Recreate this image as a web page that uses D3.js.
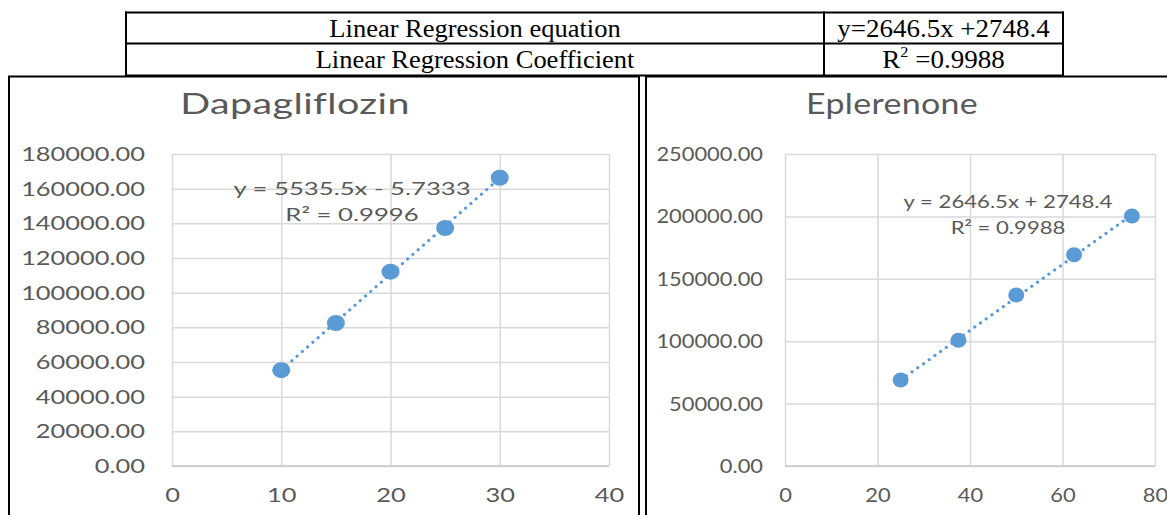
<!DOCTYPE html>
<html>
<head>
<meta charset="utf-8">
<script src="https://cdn.jsdelivr.net/npm/d3@7"></script>
<style>
  html, body { margin: 0; padding: 0; background: #fff; overflow: hidden; }
  svg { display: block; }
</style>
</head>
<body>
<svg id="fig" width="1167" height="515"></svg>
<script>
// Calibration data: concentration (µg/mL) vs. peak area
const dapaConc = [10, 15, 20, 25, 30];
const dapaArea = [55300, 82500, 112100, 137300, 166300];
const dapaFitCoef = [5535.5, -5.7333];   // slope, intercept
const dapaR2 = 0.9996;
const dapaXTicks = [0, 10, 20, 30, 40];
const dapaYTicks = [0, 20000, 40000, 60000, 80000, 100000, 120000, 140000, 160000, 180000];

const eplConc = [25, 37.5, 50, 62.5, 75];
const eplArea = [68900, 100800, 137000, 169300, 200300];
const eplFitCoef = [2646.5, 2748.4];
const eplR2 = 0.9988;
const eplXTicks = [0, 20, 40, 60, 80];
const eplYTicks = [0, 50000, 100000, 150000, 200000, 250000];

const tableLabels = ["Linear Regression equation", "Linear Regression Coefficient"];

const svg = d3.select("#fig");
const BLUE = "#5B9BD5", GREY_TXT = "#595959", GRID = "#d9d9d9";
const SANS = "Lato, 'Open Sans', sans-serif";
const SERIF = "'Liberation Serif', 'Times New Roman', serif";

// ---------- summary table ----------
const tbl = svg.append("g").attr("class", "table");
const T = { x0: 126, x1: 824, x2: 1063, y0: 12.5, y1: 43.5, y2: 75.5 };
const rowY = [T.y0, T.y1, T.y2];

function stretchedText(g, x, y, sx, anchor) {
  return g.append("text")
    .attr("transform", `translate(${x},${y}) scale(${sx},1)`)
    .attr("text-anchor", anchor || "middle");
}

tableLabels.forEach((lab, i) => {
  stretchedText(tbl, (T.x0 + T.x1) / 2, rowY[i] + 24, 1.06)
    .attr("font-family", SERIF).attr("font-size", 25).attr("fill", "#000")
    .text(lab);
});
const fmtSigned = v => (v < 0 ? "-" : "+") + Math.abs(v);
stretchedText(tbl, (T.x1 + T.x2) / 2, rowY[0] + 24, 1.08)
  .attr("font-family", SERIF).attr("font-size", 25).attr("fill", "#000")
  .text(`y=${eplFitCoef[0]}x ${fmtSigned(eplFitCoef[1])}`);
const r2cell = stretchedText(tbl, (T.x1 + T.x2) / 2, rowY[1] + 24, 1.08)
  .attr("font-family", SERIF).attr("font-size", 25).attr("fill", "#000");
r2cell.append("tspan").text("R");
r2cell.append("tspan").attr("font-size", 15).attr("dy", -11).text("2");
r2cell.append("tspan").attr("dy", 11).text(" =" + eplR2);

// table rules
[[T.x0, T.y0, T.x2, T.y0], [T.x0, T.y1, T.x2, T.y1], [T.x0, T.y2, T.x2, T.y2],
 [T.x0, T.y0, T.x0, T.y2], [T.x1, T.y0, T.x1, T.y2], [T.x2, T.y0, T.x2, T.y2]]
  .forEach(([a, b, c, d]) => tbl.append("line")
    .attr("x1", a).attr("y1", b).attr("x2", c).attr("y2", d)
    .attr("stroke", "#000").attr("stroke-width", 2).attr("stroke-linecap", "square"));

// ---------- chart panels ----------
function drawPanel(cfg) {
  const g = svg.append("g");
  // frame
  g.append("rect")
    .attr("x", cfg.frame[0]).attr("y", 76.5)
    .attr("width", cfg.frame[1] - cfg.frame[0]).attr("height", 460)
    .attr("fill", "none").attr("stroke", "#000").attr("stroke-width", 2);

  const x = d3.scaleLinear().domain(d3.extent(cfg.xTicks)).range([cfg.plot.left, cfg.plot.right]);
  const y = d3.scaleLinear().domain(d3.extent(cfg.yTicks)).range([cfg.plot.bottom, cfg.plot.top]);

  // title
  stretchedText(g, cfg.titleX, 114, cfg.sx)
    .attr("font-family", SANS).attr("font-size", 29).attr("font-weight", 400)
    .attr("fill", GREY_TXT).attr("letter-spacing", 0.3).text(cfg.title);

  // horizontal gridlines + y labels
  const yAx = g.append("g")
    .attr("transform", `translate(${cfg.plot.left},0)`)
    .call(d3.axisLeft(y).tickValues(cfg.yTicks).tickFormat(d3.format(".2f"))
      .tickSize(-(cfg.plot.right - cfg.plot.left)));
  yAx.select(".domain").remove();
  yAx.selectAll(".tick line").attr("stroke", GRID).attr("stroke-width", 1.5);
  yAx.selectAll(".tick text")
    .attr("x", null).attr("dy", null)
    .attr("transform", `translate(${cfg.yLabelRight - cfg.plot.left},6.5) scale(${cfg.sx * 1.01},1)`)
    .attr("text-anchor", "end")
    .attr("font-family", SANS).attr("font-size", 18.5).attr("fill", GREY_TXT);

  // vertical gridlines + x labels
  const xAx = g.append("g")
    .attr("transform", `translate(0,${cfg.plot.bottom})`)
    .call(d3.axisBottom(x).tickValues(cfg.xTicks).tickFormat(d3.format("d"))
      .tickSize(-(cfg.plot.bottom - cfg.plot.top)));
  xAx.select(".domain").remove();
  xAx.selectAll(".tick line").attr("stroke", GRID).attr("stroke-width", 1.5);
  xAx.selectAll(".tick text")
    .attr("y", null).attr("dy", null)
    .attr("transform", `translate(0,36) scale(${cfg.sx * 1.01},1)`)
    .attr("text-anchor", "middle")
    .attr("font-family", SANS).attr("font-size", 18.5).attr("fill", GREY_TXT);

  // axis baseline
  g.append("line")
    .attr("x1", cfg.plot.left).attr("x2", cfg.plot.right)
    .attr("y1", y(0)).attr("y2", y(0))
    .attr("stroke", "#c8c8c8").attr("stroke-width", 1.5);

  // linear trendline from the fitted equation
  const [m, b] = cfg.coef;
  const xr = d3.extent(cfg.xs);
  g.append("path")
    .datum(xr)
    .attr("d", d3.line().x(d => x(d)).y(d => y(m * d + b)))
    .attr("fill", "none").attr("stroke", BLUE).attr("stroke-width", 3.2)
    .attr("stroke-linecap", "round").attr("stroke-dasharray", "0.01 7");

  // data points
  g.selectAll("ellipse.pt")
    .data(cfg.xs.map((v, i) => [v, cfg.ys[i]]))
    .join("ellipse").attr("class", "pt")
    .attr("cx", d => x(d[0])).attr("cy", d => y(d[1]))
    .attr("rx", cfg.marker[0]).attr("ry", cfg.marker[1])
    .attr("fill", BLUE);

  // equation label
  stretchedText(g, cfg.labelPos[0], cfg.labelPos[1], cfg.sx * 1.05)
    .attr("font-family", SANS).attr("font-size", 18).attr("fill", GREY_TXT)
    .text(`y = ${m}x ${b < 0 ? "-" : "+"} ${Math.abs(b)}`);
  stretchedText(g, cfg.labelPos[0], cfg.labelPos[1] + 26, cfg.sx * 1.05)
    .attr("font-family", SANS).attr("font-size", 18).attr("fill", GREY_TXT)
    .text(`R² = ${cfg.r2}`);
}

drawPanel({
  title: "Dapagliflozin", titleX: 295, sx: 1.36,
  frame: [9, 639],
  plot: { left: 172, right: 609, top: 154, bottom: 466 },
  yLabelRight: 145,
  xTicks: dapaXTicks, yTicks: dapaYTicks,
  xs: dapaConc, ys: dapaArea, coef: dapaFitCoef, r2: dapaR2,
  labelPos: [352, 195], marker: [9, 8]
});

drawPanel({
  title: "Eplerenone", titleX: 892, sx: 1.17,
  frame: [646, 1200],
  plot: { left: 785, right: 1155, top: 154, bottom: 466 },
  yLabelRight: 763,
  xTicks: eplXTicks, yTicks: eplYTicks,
  xs: eplConc, ys: eplArea, coef: eplFitCoef, r2: eplR2,
  labelPos: [1008, 208], marker: [8, 7.5]
});
</script>
</body>
</html>
